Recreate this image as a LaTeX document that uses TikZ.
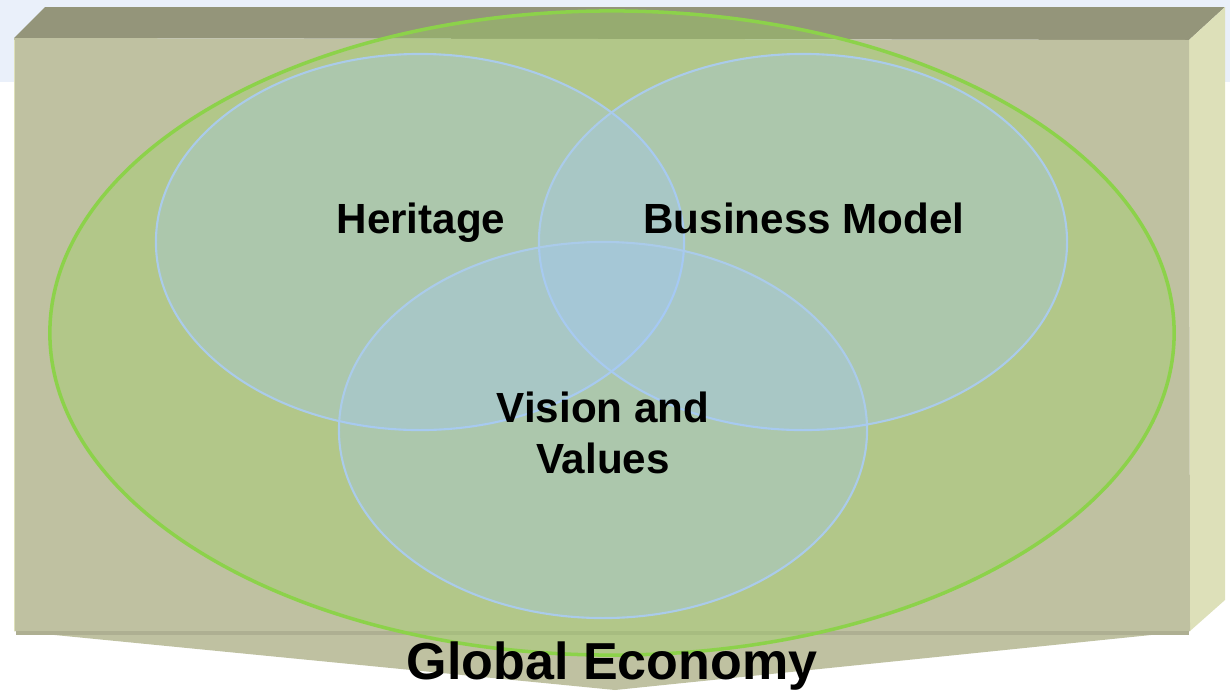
\documentclass[tikz,border=0pt]{standalone}
\usepackage{fontspec}
\setmainfont{Liberation Sans}
\usetikzlibrary{shapes.geometric}

\definecolor{skyband}{HTML}{EAF0FA}
\definecolor{boxfront}{HTML}{BFC1A1}
\definecolor{boxtop}{HTML}{94957A}
\definecolor{boxside}{HTML}{DDE0B9}
\definecolor{boxedge}{HTML}{AEAF92}
\definecolor{econfill}{HTML}{9AD55F}
\definecolor{econline}{HTML}{8CD24A}
\definecolor{circfill}{HTML}{A1C8FF}
\definecolor{circline}{HTML}{AACBEA}

\begin{document}
\begin{tikzpicture}[x=0.025cm, y=-0.025cm,
  econ/.style={ellipse, draw=econline, line width=2.5pt, fill=econfill, fill opacity=0.35, draw opacity=1},
  venn/.style={ellipse, draw=circline, line width=1.5pt, fill=circfill, fill opacity=0.3, draw opacity=1,
    minimum width=13.2cm, minimum height=9.4cm, inner sep=0pt},
  label/.style={font=\fontsize{30}{36}\selectfont\bfseries, align=center, inner sep=0pt}]

\useasboundingbox (0,0) rectangle (1230,693);

% Light band behind the top of the box
\fill[skyband] (0,0) rectangle (1230,82);

% The box: top, right side, front and bottom bevel
\fill[boxtop] (14,38) -- (45,7) -- (1225,7) -- (1189,40) -- cycle;
\fill[boxside] (1189,40) -- (1225,7) -- (1225,600) -- (1190,631) -- cycle;
\fill[boxfront] (14,38) -- (1189,40) -- (1190,631) -- (14,631) -- cycle;
\fill[boxfront] (14,631) -- (1190,631) -- (615,690) -- cycle;
\draw[boxedge, line width=3pt] (16,633) -- (1189,633);
\draw[boxside, line width=1pt] (14.5,40) -- (14.5,631);

% Global economy ellipse
\node[econ, minimum width=28.1cm, minimum height=16.1cm] (economy) at (612,333) {};

% Three overlapping circles
\node[venn] (heritage) at (420,242) {};
\node[venn] (business) at (803,242) {};
\node[venn] (vision) at (603,430) {};

% Labels
\node[label, anchor=base] (heritagetxt) at (421,233) {Heritage};
\node[label, anchor=base] (businesstxt) at (804,233) {Business Model};
\node[label] (visiontxt) at (603,433) {Vision and\\Values};
\node[label, font=\fontsize{37}{44}\selectfont\bfseries, anchor=base] (economytxt) at (612,679) {Global Economy};

\end{tikzpicture}
\end{document}
